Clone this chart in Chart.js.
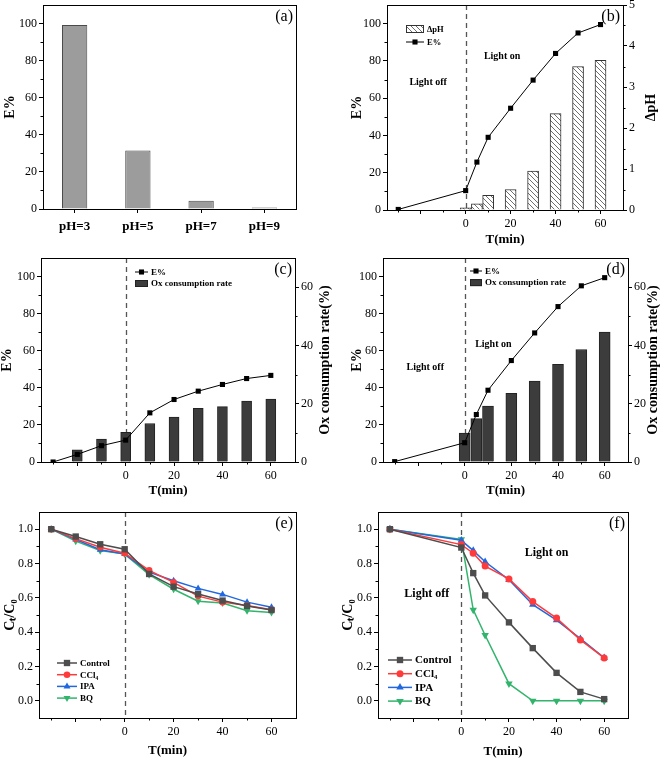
<!DOCTYPE html>
<html>
<head>
<meta charset="utf-8">
<script src="https://cdn.jsdelivr.net/npm/chart.js@4.4.1/dist/chart.umd.min.js"></script>
<style>
  body { margin: 0; background: #fff; width: 661px; height: 760px; position: relative; overflow: hidden; }
  canvas { position: absolute; }
</style>
</head>
<body>
<canvas id="ca" width="330" height="250" style="left:0;top:0"></canvas>
<canvas id="cb" width="331" height="250" style="left:330px;top:0"></canvas>
<canvas id="cc" width="333" height="255" style="left:0;top:250px"></canvas>
<canvas id="cd" width="331" height="255" style="left:330px;top:250px"></canvas>
<canvas id="ce" width="330" height="255" style="left:0;top:505px"></canvas>
<canvas id="cf" width="331" height="255" style="left:330px;top:505px"></canvas>
<script>
// ---- data ----
// (a) removal at different pH
const phLabels = ['pH=3', 'pH=5', 'pH=7', 'pH=9'];
const phRemoval = [99.2, 31.6, 4.5, 0.8];

// shared time ticks (the -20 tick has no label)
const timeTicks = [-20, 0, 20, 40, 60];

// (b)
const timeB = [-30, 0, 5, 10, 20, 30, 40, 50, 60];
const removalB = [0.3, 10.4, 25.7, 39, 54.6, 69.7, 84, 95, 99.5];
const deltaPhTime = [0, 5, 10, 20, 30, 40, 50, 60];
const deltaPh = [0.05, 0.15, 0.36, 0.5, 0.95, 2.35, 3.5, 3.65];

// (c)
const timeC = [-30, -20, -10, 0, 10, 20, 30, 40, 50, 60];
const removalC = [0, 4.1, 8.8, 11.8, 26.5, 33.7, 38.2, 41.8, 45.0, 46.7];
const oxTimeC = [-20, -10, 0, 10, 20, 30, 40, 50, 60];
const oxRateC = [4.2, 7.9, 10.2, 13.2, 15.4, 18.4, 19.0, 20.9, 21.6];

// (d)
const timeD = [-30, 0, 5, 10, 20, 30, 40, 50, 60];
const removalD = [0.2, 10.4, 25.6, 38.7, 54.7, 69.6, 83.8, 95, 99.4];
const oxTimeD = [0, 5, 10, 20, 30, 40, 50, 60];
const oxRateD = [9.9, 14.9, 19.2, 23.6, 27.8, 33.5, 38.6, 44.6];

// (e)
const timeE = [-30, -20, -10, 0, 10, 20, 30, 40, 50, 60];
const controlE = [1.0, 0.957, 0.912, 0.883, 0.739, 0.665, 0.622, 0.584, 0.553, 0.529];
const ccl4E = [1.0, 0.945, 0.895, 0.86, 0.76, 0.69, 0.61, 0.575, 0.555, 0.53];
const ipaE = [1.0, 0.94, 0.88, 0.855, 0.75, 0.70, 0.655, 0.62, 0.575, 0.545];
const bqE = [1.0, 0.93, 0.875, 0.855, 0.735, 0.65, 0.58, 0.57, 0.525, 0.515];

// (f)
const timeF = [-30, 0, 5, 10, 20, 30, 40, 50, 60];
const controlF = [1.0, 0.893, 0.744, 0.614, 0.457, 0.307, 0.163, 0.052, 0.01];
const ccl4F = [1.0, 0.91, 0.86, 0.785, 0.71, 0.578, 0.482, 0.355, 0.25];
const ipaF = [1.0, 0.935, 0.875, 0.81, 0.705, 0.56, 0.47, 0.362, 0.25];
const bqF = [1.0, 0.94, 0.53, 0.382, 0.10, 0.0, 0.0, 0.0, 0.0];

const ratioTicks = [0, 0.2, 0.4, 0.6, 0.8, 1.0];

// ---- styling helpers ----
const serif = "'Liberation Serif', 'Times New Roman', serif";
Chart.defaults.font.family = serif;
Chart.defaults.color = '#000';

function pts(xs, ys) {
    return xs.map((x, i) => ({ x: x, y: ys[i] }));
}

// diagonal hatch used for the ΔpH bars
function hatchPattern() {
    const c = document.createElement('canvas');
    c.width = 5; c.height = 5;
    const g = c.getContext('2d');
    g.fillStyle = '#fff';
    g.fillRect(0, 0, 5, 5);
    g.strokeStyle = '#6f6f6f';
    g.lineWidth = 1;
    g.beginPath();
    g.moveTo(0, 0); g.lineTo(5, 5);
    g.moveTo(-1, 4); g.lineTo(1, 6);
    g.moveTo(4, -1); g.lineTo(6, 1);
    g.stroke();
    return g.createPattern(c, 'repeat');
}

// fix the axis box size and drop the label overhang padding
function boxSize(size) {
    return s => {
        if (s.isHorizontal()) s.height = size; else s.width = size;
        s.paddingTop = s.paddingBottom = s.paddingLeft = s.paddingRight = 0;
    };
}

function valueAxis(o) {
    return {
        type: 'linear',
        position: o.position,
        min: o.min, max: o.max,
        afterBuildTicks: s => { s.ticks = o.ticks.map(v => ({ value: v })); },
        afterFit: boxSize(o.width),
        border: { color: '#000', width: 1 },
        grid: { drawOnChartArea: false, tickLength: 4, color: '#000' },
        ticks: { autoSkip: false, padding: 2, font: { size: 12 }, callback: o.format || (v => v) },
        title: {
            display: o.position === 'left', text: o.title,
            font: { size: 14, weight: 'bold', lineHeight: 1 },
            padding: { top: o.titlePad, bottom: 0 }
        }
    };
}

function timeAxis(height, titlePad) {
    return {
        type: 'linear', min: -35, max: 70, offset: false,
        afterBuildTicks: s => { s.ticks = timeTicks.map(v => ({ value: v })); },
        afterFit: boxSize(height),
        border: { color: '#000', width: 1 },
        grid: { offset: false, drawOnChartArea: false, tickLength: 4, color: '#000' },
        ticks: { autoSkip: false, maxRotation: 0, padding: 3, font: { size: 12 }, callback: v => v === -20 ? '' : v },
        title: {
            display: true, text: 'T(min)',
            font: { size: 13, weight: 'bold', lineHeight: 1 },
            padding: { top: 0, bottom: titlePad }
        }
    };
}

function drawMarker(ctx, style, rot, x, y, r) {
    ctx.beginPath();
    if (style === 'rect') {
        const s = r * Math.SQRT1_2;
        ctx.rect(x - s, y - s, 2 * s, 2 * s);
    } else if (style === 'circle') {
        ctx.arc(x, y, r, 0, Math.PI * 2);
    } else {
        const d = rot === 180 ? -1 : 1;
        ctx.moveTo(x, y - d * r);
        ctx.lineTo(x + r * 0.87, y + d * r * 0.5);
        ctx.lineTo(x - r * 0.87, y + d * r * 0.5);
        ctx.closePath();
    }
    ctx.fill();
}

function drawMinor(ctx, s) {
    const vals = s.ticks.map(t => t.value);
    const step = vals[1] - vals[0];
    const list = [vals[0] - step / 2].concat(vals.map(v => v + step / 2))
        .filter(v => v > s.min + 1e-9 && v < s.max - 1e-9);
    ctx.beginPath();
    list.forEach(v => {
        const p = Math.round(s.getPixelForValue(v)) + 0.5;
        if (s.position === 'left') { ctx.moveTo(s.right, p); ctx.lineTo(s.right - 2.5, p); }
        else if (s.position === 'right') { ctx.moveTo(s.left, p); ctx.lineTo(s.left + 2.5, p); }
        else { ctx.moveTo(p, s.top); ctx.lineTo(p, s.top + 2.5); }
    });
    ctx.stroke();
}

function drawLegend(chart, lg) {
    const { ctx, chartArea: a } = chart;
    const x0 = a.left + lg.x;
    lg.items.forEach((idx, row) => {
        const ds = chart.data.datasets[idx];
        const y = a.top + lg.y + row * lg.rowH;
        if (ds.type === 'bar') {
            ctx.fillStyle = ds.backgroundColor;
            ctx.fillRect(x0, y - lg.boxH / 2, lg.symW, lg.boxH);
            ctx.strokeStyle = ds.borderColor;
            ctx.lineWidth = 1;
            ctx.strokeRect(x0 + 0.5, y - lg.boxH / 2 + 0.5, lg.symW - 1, lg.boxH - 1);
        } else {
            ctx.strokeStyle = ds.borderColor;
            ctx.lineWidth = ds.borderWidth;
            ctx.beginPath(); ctx.moveTo(x0, y); ctx.lineTo(x0 + lg.symW, y); ctx.stroke();
            ctx.fillStyle = ds.backgroundColor;
            drawMarker(ctx, ds.pointStyle, ds.pointRotation, x0 + lg.symW / 2, y, ds.pointRadius);
        }
        ctx.fillStyle = '#000';
        ctx.font = 'bold ' + lg.size + 'px ' + serif;
        ctx.textAlign = 'left';
        ctx.textBaseline = 'middle';
        ctx.fillText(ds.label, x0 + lg.symW + 3, y + 0.5);
    });
}

// frame, dashed light-on line, minor ticks, right titles, panel letters, notes and legends
Chart.register({
    id: 'notes',
    beforeDatasetsDraw(chart, args, o) {
        if (!o.zero) return;
        const { ctx, chartArea: a } = chart;
        const x = Math.round(chart.scales.x.getPixelForValue(0)) + 0.5;
        ctx.save();
        ctx.strokeStyle = '#555';
        ctx.lineWidth = 1.3;
        ctx.setLineDash([5, 4]);
        ctx.beginPath(); ctx.moveTo(x, a.top); ctx.lineTo(x, a.bottom); ctx.stroke();
        ctx.restore();
    },
    afterDraw(chart, args, o) {
        const { ctx, chartArea: a } = chart;
        ctx.save();
        ctx.strokeStyle = '#000';
        ctx.lineWidth = 1;
        ctx.strokeRect(Math.round(a.left) + 0.5, Math.round(a.top) + 0.5,
            Math.round(a.right - a.left), Math.round(a.bottom - a.top));
        (o.minor || []).forEach(id => drawMinor(ctx, chart.scales[id]));
        ctx.fillStyle = '#000';
        if (o.rightTitle) {
            // right axis title reads bottom-to-top like the left one
            ctx.save();
            ctx.translate(chart.width - o.rightTitle.offset, (a.top + a.bottom) / 2);
            ctx.rotate(-Math.PI / 2);
            ctx.font = 'bold 14px ' + serif;
            ctx.textAlign = 'center';
            ctx.textBaseline = 'middle';
            ctx.fillText(o.rightTitle.text, 0, 0);
            ctx.restore();
        }
        if (o.letter) {
            ctx.font = '16px ' + serif;
            ctx.textAlign = 'right';
            ctx.textBaseline = 'middle';
            ctx.fillText(o.letter, a.right - 3, a.top + 12);
        }
        (o.texts || []).forEach(t => {
            ctx.font = 'bold ' + t.size + 'px ' + serif;
            ctx.textAlign = 'center';
            ctx.textBaseline = 'middle';
            ctx.fillText(t.text, chart.scales.x.getPixelForValue(t.x), chart.scales.y.getPixelForValue(t.y));
        });
        if (o.legend) drawLegend(chart, o.legend);
        ctx.restore();
    }
});

function baseOptions(pad, scales, notes) {
    return {
        responsive: false,
        animation: false,
        devicePixelRatio: 1,
        layout: { padding: { top: pad.top, right: pad.right || 0, left: 0, bottom: 0 } },
        scales: scales,
        plugins: { legend: { display: false }, tooltip: { enabled: false }, notes: notes }
    };
}

function lineSet(label, xs, ys, color, style, radius, extra) {
    return Object.assign({
        type: 'line', label: label, data: pts(xs, ys), yAxisID: 'y',
        borderColor: color, backgroundColor: color, borderWidth: 1.5,
        pointStyle: style, pointRadius: radius, pointBorderWidth: 0, order: 0
    }, extra || {});
}

// ---- (a) ----
new Chart(document.getElementById('ca'), {
    type: 'bar',
    data: {
        labels: phLabels,
        datasets: [{
            label: 'E%', data: phRemoval,
            backgroundColor: '#9c9c9c', borderColor: '#4a4a4a', borderWidth: 1,
            categoryPercentage: 1, barPercentage: 0.4
        }]
    },
    options: baseOptions({ top: 5, right: 34 }, {
        x: {
            type: 'category', offset: true,
            afterFit: boxSize(41),
            border: { color: '#000', width: 1 },
            grid: { offset: false, drawOnChartArea: false, tickLength: 4, color: '#000' },
            ticks: { padding: 6, font: { size: 13, weight: 'bold' } }
        },
        y: valueAxis({ position: 'left', min: 0, max: 110, ticks: [0, 20, 40, 60, 80, 100], width: 43, title: 'E%', titlePad: 3 })
    }, { letter: '(a)', minor: ['y'] })
});

// ---- (b) ----
const hatch = hatchPattern();
new Chart(document.getElementById('cb'), {
    type: 'bar',
    data: {
        datasets: [
            lineSet('E%', timeB, removalB, '#000', 'rect', 3.6, { borderWidth: 1 }),
            { type: 'bar', label: 'ΔpH', data: pts(deltaPhTime, deltaPh), yAxisID: 'y2',
              backgroundColor: hatch, borderColor: '#333', borderWidth: 1, barThickness: 11, order: 1 }
        ]
    },
    options: baseOptions({ top: 5 }, {
        x: timeAxis(40, 3.5),
        y: valueAxis({ position: 'left', min: 0, max: 110, ticks: [0, 20, 40, 60, 80, 100], width: 57, title: 'E%', titlePad: 20 }),
        y2: valueAxis({ position: 'right', min: 0, max: 5, ticks: [0, 1, 2, 3, 4, 5], width: 38 })
    }, {
        zero: true, letter: '(b)', minor: ['x', 'y', 'y2'],
        rightTitle: { text: 'ΔpH', offset: 9.3 },
        texts: [{ text: 'Light off', x: -16.7, y: 68.5, size: 10 }, { text: 'Light on', x: 16.2, y: 82.6, size: 10 }],
        legend: { x: 19, y: 24, rowH: 13, symW: 18, boxH: 8, size: 8.5, items: [1, 0] }
    })
});

// ---- (c) ----
new Chart(document.getElementById('cc'), {
    type: 'bar',
    data: {
        datasets: [
            lineSet('E%', timeC, removalC, '#000', 'rect', 3.6, { borderWidth: 1 }),
            { type: 'bar', label: 'Ox consumption rate', data: pts(oxTimeC, oxRateC), yAxisID: 'y2',
              backgroundColor: '#3c3c3c', borderColor: '#222', borderWidth: 1, barThickness: 10, order: 1 }
        ]
    },
    options: baseOptions({ top: 8 }, {
        x: timeAxis(43, 7.5),
        y: valueAxis({ position: 'left', min: 0, max: 110, ticks: [0, 20, 40, 60, 80, 100], width: 41, title: 'E%', titlePad: 0 }),
        y2: valueAxis({ position: 'right', min: 0, max: 70, ticks: [0, 20, 40, 60], width: 38 })
    }, {
        zero: true, letter: '(c)', minor: ['x', 'y', 'y2'],
        rightTitle: { text: 'Ox consumption rate(%)', offset: 8 },
        legend: { x: 94, y: 14, rowH: 11.5, symW: 13, boxH: 7, size: 9, items: [0, 1] }
    })
});

// ---- (d) ----
new Chart(document.getElementById('cd'), {
    type: 'bar',
    data: {
        datasets: [
            lineSet('E%', timeD, removalD, '#000', 'rect', 3.6, { borderWidth: 1 }),
            { type: 'bar', label: 'Ox consumption rate', data: pts(oxTimeD, oxRateD), yAxisID: 'y2',
              backgroundColor: '#3c3c3c', borderColor: '#222', borderWidth: 1, barThickness: 11, order: 1 }
        ]
    },
    options: baseOptions({ top: 8 }, {
        x: timeAxis(43, 7.5),
        y: valueAxis({ position: 'left', min: 0, max: 110, ticks: [0, 20, 40, 60, 80, 100], width: 53, title: 'E%', titlePad: 20 }),
        y2: valueAxis({ position: 'right', min: 0, max: 70, ticks: [0, 20, 40, 60], width: 33 })
    }, {
        zero: true, letter: '(d)', minor: ['x', 'y', 'y2'],
        rightTitle: { text: 'Ox consumption rate(%)', offset: 7.7 },
        texts: [{ text: 'Light off', x: -16.9, y: 50.8, size: 10 }, { text: 'Light on', x: 12.3, y: 63.3, size: 10 }],
        legend: { x: 87, y: 13, rowH: 11.6, symW: 12, boxH: 7, size: 9, items: [0, 1] }
    })
});

// ---- (e) ----
const ratioFmt = v => v.toFixed(1);
new Chart(document.getElementById('ce'), {
    type: 'line',
    data: {
        datasets: [
            lineSet('Control', timeE, controlE, '#4d4d4d', 'rect', 4.5),
            lineSet('CCl₄', timeE, ccl4E, '#ff3a3a', 'circle', 3.3),
            lineSet('IPA', timeE, ipaE, '#2168e0', 'triangle', 4),
            lineSet('BQ', timeE, bqE, '#33b46c', 'triangle', 4, { pointRotation: 180 })
        ]
    },
    options: baseOptions({ top: 7, right: 34 }, {
        x: timeAxis(42, 2.5),
        y: valueAxis({ position: 'left', min: -0.1, max: 1.1, ticks: ratioTicks, width: 39, title: 'Cₜ/C₀', titlePad: 3, format: ratioFmt })
    }, {
        zero: true, letter: '(e)', minor: ['x', 'y'],
        legend: { x: 18, y: 151, rowH: 11.7, symW: 20, boxH: 7, size: 9, items: [0, 1, 2, 3] }
    })
});

// ---- (f) ----
new Chart(document.getElementById('cf'), {
    type: 'line',
    data: {
        datasets: [
            lineSet('Control', timeF, controlF, '#4d4d4d', 'rect', 4.5),
            lineSet('CCl₄', timeF, ccl4F, '#ff3a3a', 'circle', 3.5),
            lineSet('IPA', timeF, ipaF, '#2168e0', 'triangle', 4.3),
            lineSet('BQ', timeF, bqF, '#33b46c', 'triangle', 4.3, { pointRotation: 180 })
        ]
    },
    options: baseOptions({ top: 7, right: 33 }, {
        x: timeAxis(42, 1.5),
        y: valueAxis({ position: 'left', min: -0.1, max: 1.1, ticks: ratioTicks, width: 48, title: 'Cₜ/C₀', titlePad: 11, format: ratioFmt })
    }, {
        zero: true, letter: '(f)', minor: ['x', 'y'],
        texts: [{ text: 'Light off', x: -14.5, y: 0.623, size: 12 }, { text: 'Light on', x: 35.8, y: 0.862, size: 12 }],
        legend: { x: 10, y: 148, rowH: 13.7, symW: 24, boxH: 7, size: 11, items: [0, 1, 2, 3] }
    })
});
</script>
</body>
</html>
